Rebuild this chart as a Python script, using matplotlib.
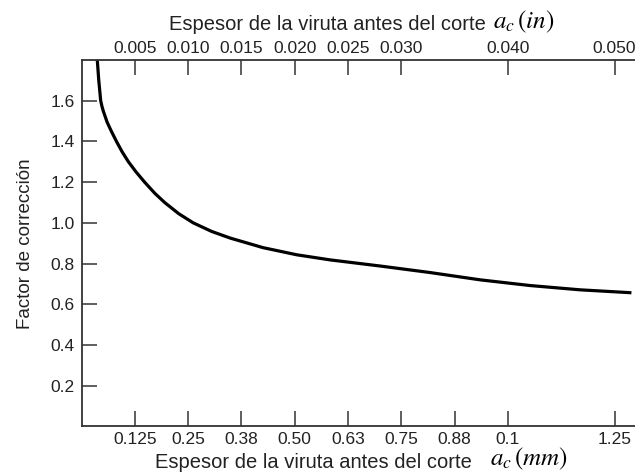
import matplotlib
matplotlib.use("Agg")
import matplotlib.pyplot as plt

# Data (x in mm, y = correction factor)
thickness_mm = [0.037, 0.0405, 0.045, 0.048, 0.051, 0.060, 0.070, 0.082, 0.095, 0.110,
                0.128, 0.148, 0.172, 0.195, 0.228, 0.262, 0.305, 0.349, 0.426,
                0.505, 0.583, 0.700, 0.817, 0.935, 1.052, 1.169, 1.286]
factor = [1.80, 1.70, 1.60, 1.572, 1.55, 1.495, 1.45, 1.40, 1.35, 1.30,
          1.25, 1.20, 1.145, 1.10, 1.045, 1.00, 0.958, 0.925, 0.878,
          0.843, 0.818, 0.788, 0.756, 0.720, 0.692, 0.671, 0.657]

bottom_ticks = [0.125, 0.25, 0.375, 0.50, 0.625, 0.75, 0.875, 1.0, 1.25]
bottom_labels = ["0.125", "0.25", "0.38", "0.50", "0.63", "0.75", "0.88", "0.1", "1.25"]
top_ticks = [0.005, 0.010, 0.015, 0.020, 0.025, 0.030, 0.040, 0.050]
top_labels = ["0.005", "0.010", "0.015", "0.020", "0.025", "0.030", "0.040", "0.050"]
y_ticks = [0.2, 0.4, 0.6, 0.8, 1.0, 1.2, 1.4, 1.6]

plt.rcParams['font.family'] = ['Liberation Sans', 'DejaVu Sans']
plt.rcParams['mathtext.fontset'] = 'stix'

W, H = 635, 473
fig = plt.figure(figsize=(W / 100, H / 100), dpi=100)
ax_left, ax_top, ax_bottom = 81.5, 60.0, 426.4
ax_w = 426.4 * 1.3
ax = fig.add_axes([ax_left / W, 1 - ax_bottom / H, ax_w / W, (ax_bottom - ax_top) / H])

ax.plot(thickness_mm, factor, color='black', lw=2.3, solid_joinstyle='round')

ax.set_xlim(0, 1.3)
ax.set_ylim(0, 1.8)

spine_col = '#333333'
txt_col = '#222222'
for s in ['left', 'bottom', 'top']:
    ax.spines[s].set_color(spine_col)
    ax.spines[s].set_linewidth(1.3)
ax.spines['right'].set_visible(False)

ax.set_xticks(bottom_ticks)
ax.set_xticklabels(bottom_labels)
ax.set_yticks(y_ticks)
ax.set_yticklabels([f"{v:.1f}" for v in y_ticks])
ax.tick_params(direction='in', length=11, width=1.1, color=spine_col,
               labelsize=12.5, labelcolor=txt_col, pad=4)
ax.tick_params(axis='y', pad=5)

ax2 = ax.twiny()
ax2.set_xlim(0, 1.3 / 25.0)
ax2.set_xticks(top_ticks)
ax2.set_xticklabels(top_labels)
ax2.tick_params(direction='in', length=11, width=1.1, color=spine_col,
                labelsize=12.5, labelcolor=txt_col, pad=3)
for s in ax2.spines.values():
    s.set_visible(False)

ax.set_ylabel("Factor de corrección", fontsize=13.5, color=txt_col, labelpad=12)

# axis titles with serif italic math part
fig.text(486 / W, 1 - 25 / H, "Espesor de la viruta antes del corte", ha='right',
         va='center', fontsize=14.5, color=txt_col)
fig.text(493 / W, 1 - 22 / H, r"$a_c\,(in)$", ha='left', va='center',
         fontsize=18, color='black')
fig.text(472 / W, 1 - 462 / H, "Espesor de la viruta antes del corte", ha='right',
         va='center', fontsize=14.5, color=txt_col)
fig.text(490 / W, 1 - 459 / H, r"$a_c\,(mm)$", ha='left', va='center',
         fontsize=18, color='black')

fig.savefig("out.png", dpi=100)
